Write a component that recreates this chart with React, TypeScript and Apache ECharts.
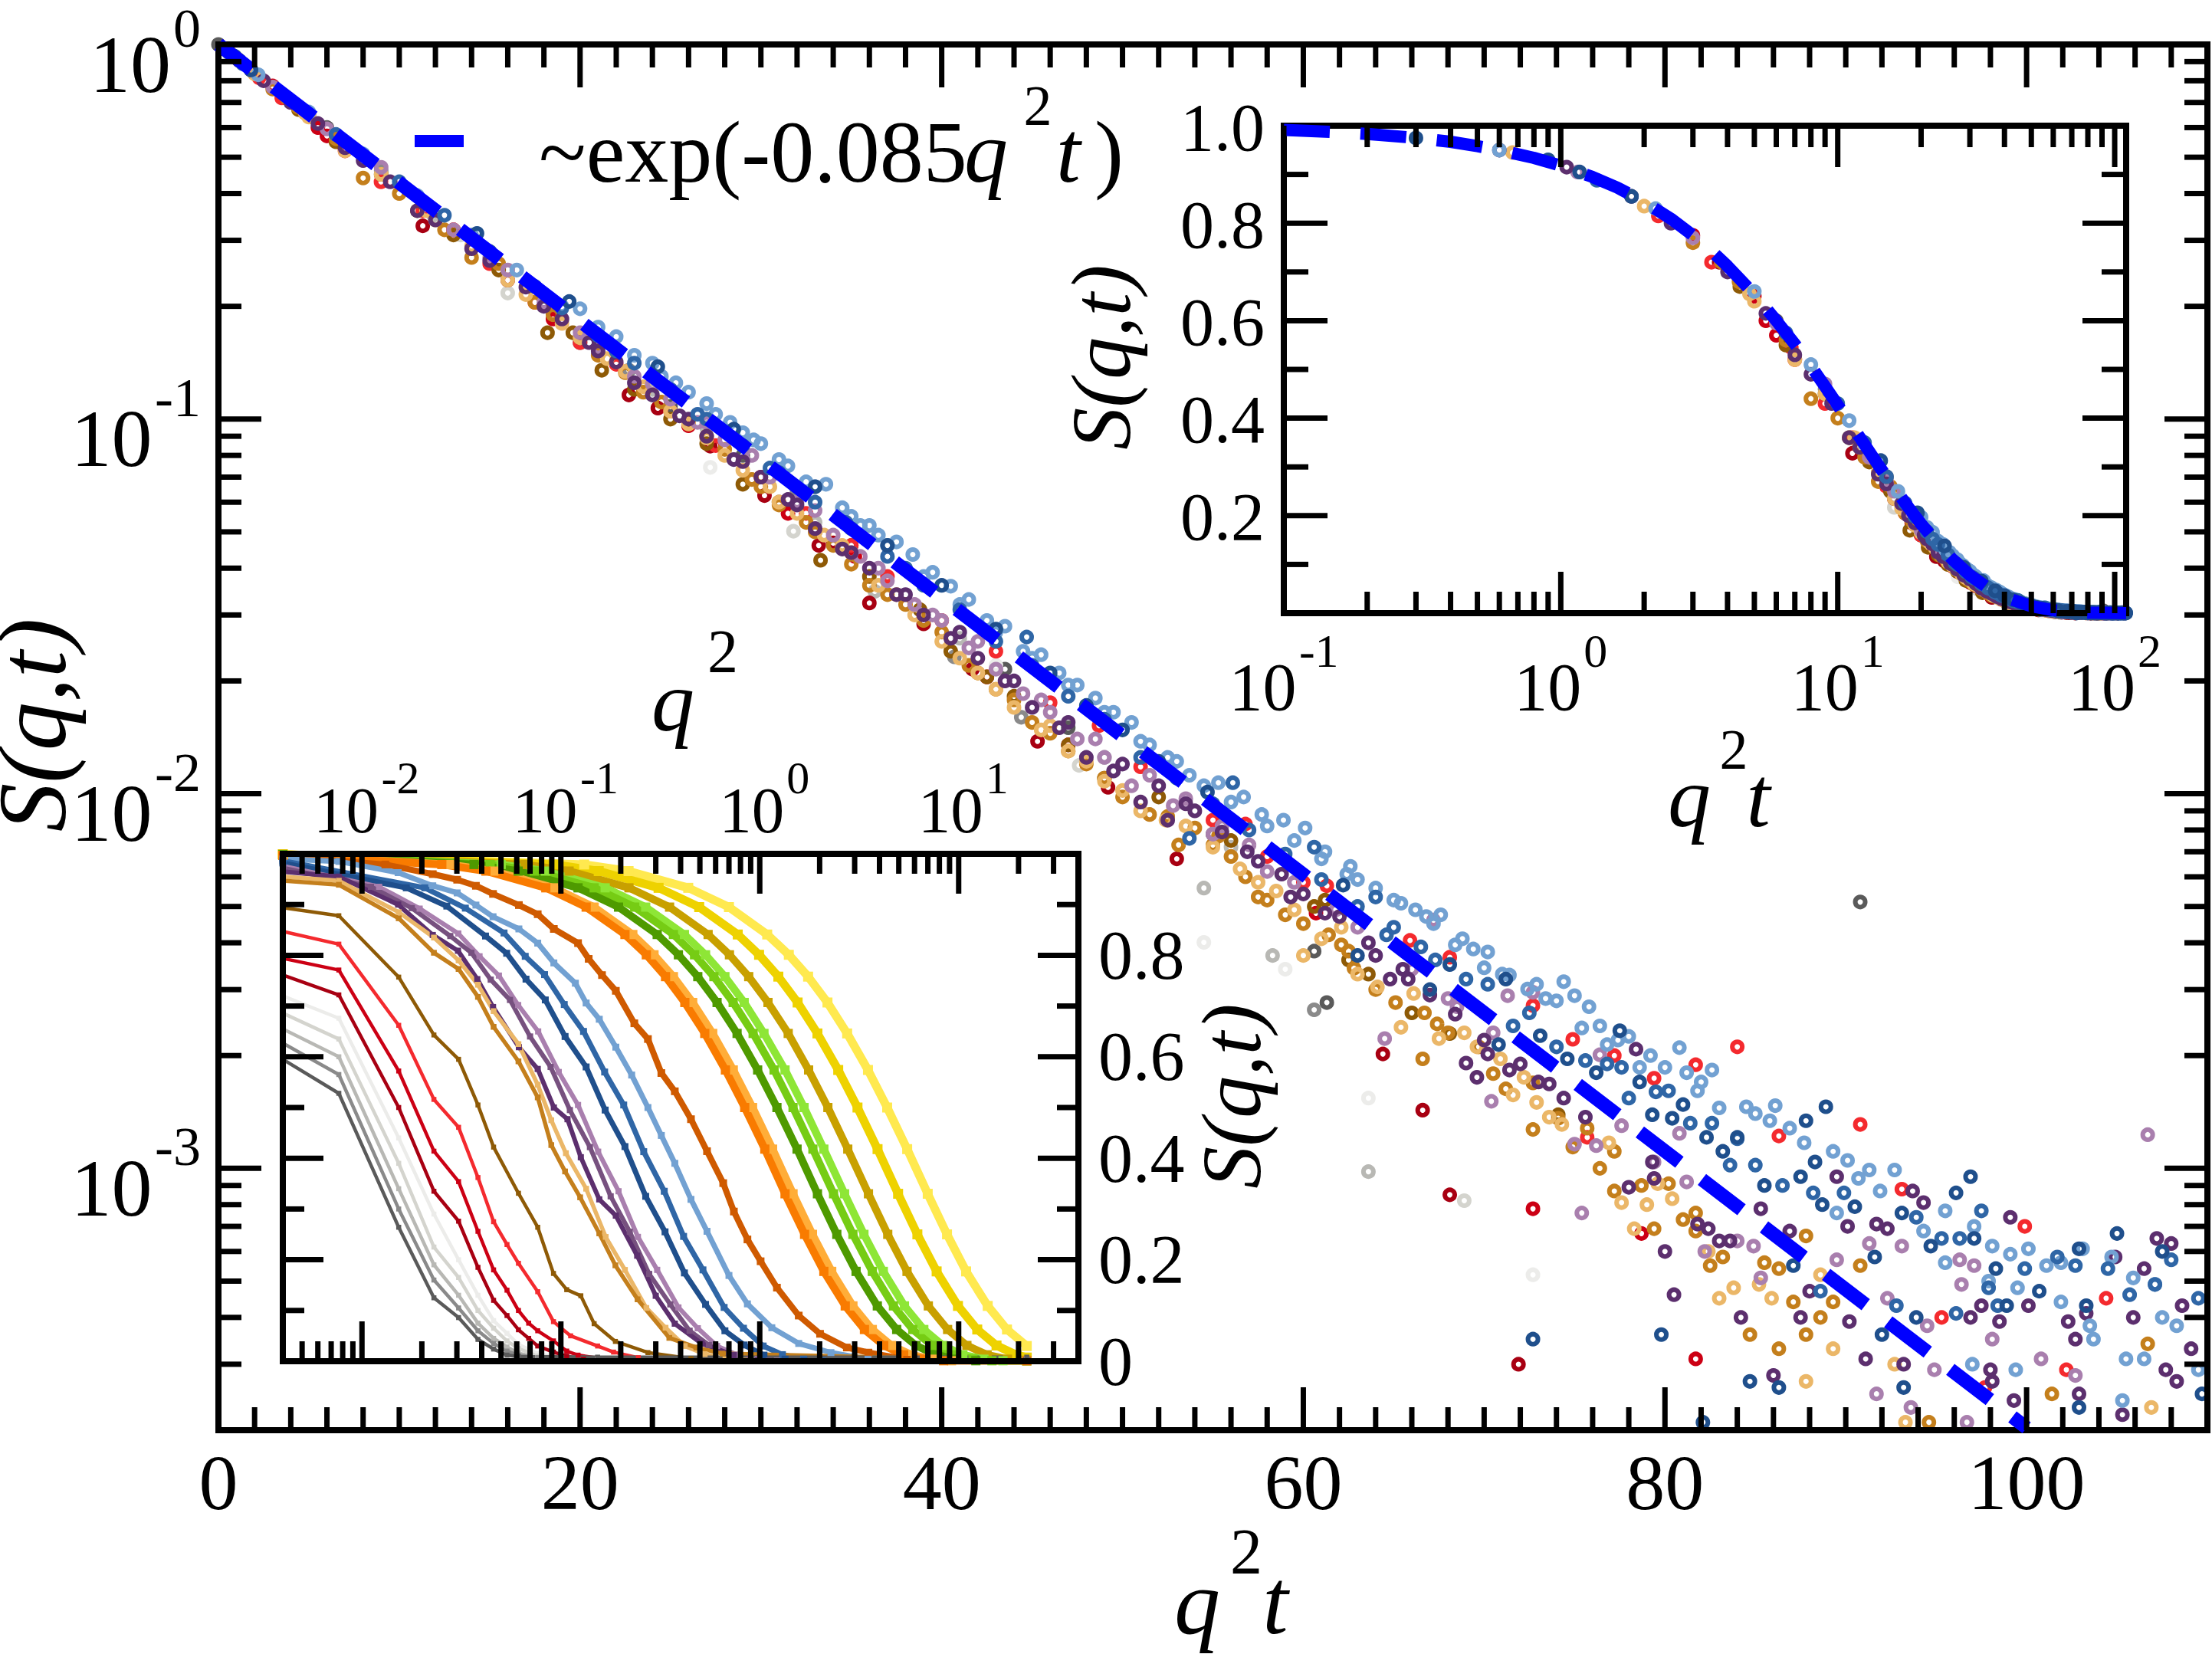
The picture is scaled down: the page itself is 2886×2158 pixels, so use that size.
import React, { useEffect, useRef } from "react";
import * as echarts from "echarts";

type P = [number, number];
const FONT = "Liberation Serif";

// ---- colours
const cGray1 = "#5a5a5a", cGray2 = "#8a8a8a", cGray3 = "#b8b8b4", cGray4 = "#d4d4ce", cGray5 = "#ececea";
const cRedD = "#a80012", cRedM = "#cc0014", cRedB = "#f42a2e";
const cBrown = "#8e5a06", cTanD = "#c47f1c", cTanL = "#ebb768";
const cPurD = "#5c2f6e", cPurM = "#77517f", cPurL = "#a97fae";
const cBluD = "#1f4f8c", cBluM = "#2f66a6", cBluL = "#72a1d2";
const cOrgD = "#cf5a00", cOrgM = "#f97b00", cOrgL = "#ffad38";
const cGrnD = "#4e9a00", cGrnM = "#76cc14", cGrnL = "#8ee636";
const cGldD = "#c8a000", cGldM = "#eed200", cGldL = "#ffe94f";

// ---- main panel scatter: q^2 t, S(q,t)
const originPoint: P[] = [[0, 1]];
const ptsBluL: P[] = [[0.6, 0.95], [2.2, 0.83], [5, 0.66], [8, 0.51], [11, 0.395], [14, 0.31], [16.5, 0.25], [19, 0.2], [21, 0.176], [23, 0.148], [24.5, 0.13], [26, 0.118], [27.5, 0.103], [29, 0.092], [30, 0.086], [31, 0.078], [32.5, 0.068], [33.6, 0.067], [34.5, 0.058], [35.5, 0.052], [36, 0.052], [36.5, 0.049], [37.5, 0.047], [38.4, 0.0435], [39.5, 0.039], [40.5, 0.0358], [41.5, 0.033], [42.5, 0.029], [43.5, 0.028], [44.5, 0.024], [45.5, 0.0235], [46.5, 0.021], [47.5, 0.0195], [48.5, 0.018], [49.5, 0.0165], [50.5, 0.0155], [51.5, 0.0135], [52.5, 0.0125],
[53.7, 0.0112], [55.3, 0.0107], [56.7, 0.0098], [57.7, 0.0088], [58.9, 0.0085], [60.1, 0.0081], [61.2, 0.007], [62.6, 0.0064], [62.4, 0.0061], [64, 0.0056], [65.4, 0.0051], [66.2, 0.0049], [67.6, 0.00475], [67.2, 0.0045], [68.4, 0.00395], [69.4, 0.00385], [70.2, 0.00378], [70, 0.00343], [71.4, 0.00328], [72.4, 0.00301], [73.4, 0.00284], [74.4, 0.00315], [75, 0.00289], [75.8, 0.0027], [76.4, 0.0024], [75.4, 0.00237], [76.8, 0.00214], [77.4, 0.0022], [79.2, 0.002], [78.6, 0.00186], [80, 0.00186], [81.2, 0.0018], [82.6, 0.00183], [81.8, 0.00161], [83, 0.00145], [84.5, 0.00146], [86.1, 0.00147], [85, 0.0014], [85.8, 0.00134], [86.9, 0.00128], [87.7, 0.00117], [89.3, 0.00111], [90.1, 0.00105], [91.3, 0.00099], [92.7, 0.00099], [90.7, 0.00094], [91.9, 0.00087], [89.5, 0.00076], [95.5, 0.00077], [97.1, 0.0007], [94.3, 0.00068], [98.1, 0.00062], [99.1, 0.00059], [95.5, 0.00056], [100.1, 0.00061], [101.1, 0.00055], [101.9, 0.00056], [99.5, 0.00048], [97.9, 0.0005], [103.1, 0.00061], [104.7, 0.00058], [105.9, 0.00051], [107.1, 0.00049], [101.9, 0.00044], [103.5, 0.00038], [103.7, 0.00035], [105.5, 0.00031], [106.5, 0.00031], [107.5, 0.0004], [108.3, 0.00038], [105.3, 0.00024], [99.4, 0.00029], [97, 0.0003], [109.5, 0.00029],
[20, 0.197], [22, 0.166], [24, 0.141], [25.3, 0.125], [27, 0.11], [28.3, 0.098], [29.6, 0.088], [31.5, 0.075], [33, 0.066], [35, 0.055], [37, 0.046], [39, 0.038], [41, 0.032], [43, 0.027], [45, 0.023], [47, 0.0195], [49, 0.0165], [51, 0.0138], [53, 0.0122], [54.5, 0.0105], [56, 0.0095], [58, 0.0082], [59.5, 0.0075], [61, 0.0067], [63, 0.0059], [65, 0.0052], [66.8, 0.0047], [68.8, 0.0041], [71, 0.0033], [72.9, 0.0031], [74, 0.0028], [78, 0.00225], [80.8, 0.0021], [82, 0.0017]];
const ptsBluM: P[] = [[1.35, 0.888], [6.5, 0.575], [12.5, 0.35], [17.5, 0.226], [22, 0.152], [26.5, 0.103], [30.5, 0.074], [34.7, 0.053], [38, 0.04], [41, 0.031], [44.7, 0.0262], [47, 0.0182], [49, 0.0158], [51, 0.0125], [53.7, 0.0076], [56.1, 0.0107], [60.6, 0.0072], [64, 0.0053], [64.6, 0.0042], [67.3, 0.0036], [70.2, 0.0031], [71.6, 0.0024], [74, 0.00211], [75.6, 0.00194], [77.6, 0.00186], [78, 0.00154], [80.2, 0.00161], [81.4, 0.00132], [82.6, 0.00132], [83.6, 0.00102], [85, 0.00102], [86.5, 0.0009], [88.2, 0.00086], [89.9, 0.00086], [88.6, 0.00047], [92.8, 0.00043], [93.9, 0.00074], [95.3, 0.00065], [96.3, 0.00065], [97.5, 0.00077], [97.9, 0.00048], [99.9, 0.00054], [101.7, 0.00058], [102.7, 0.00055], [104.5, 0.00054], [105.7, 0.00046], [107.1, 0.00049], [108, 0.00057], [109.5, 0.00045], [98.4, 0.00043], [96.1, 0.00041],
[10, 0.43], [15, 0.28], [19, 0.198], [21, 0.167], [23, 0.141], [25, 0.12], [27, 0.1], [29, 0.085], [31, 0.072], [33, 0.06], [35, 0.051], [37, 0.043], [39, 0.036], [43, 0.0255], [45, 0.022], [53, 0.011], [55, 0.0094], [57, 0.008], [59, 0.0069], [61, 0.0059], [63, 0.005], [65, 0.0044], [66.5, 0.0039], [69, 0.0032], [72.5, 0.0026], [76.8, 0.0019], [79.5, 0.0016], [84, 0.0012]];
const ptsBluD: P[] = [[0.3, 0.975], [0.9, 0.93], [1.17, 0.905], [1.8, 0.855], [14.3, 0.313], [19.4, 0.206], [24.3, 0.138], [28.5, 0.094], [33, 0.066], [37, 0.046], [40, 0.036], [43, 0.0275], [46, 0.021], [48, 0.0172], [50, 0.0148], [52, 0.0122], [54.7, 0.0101], [62.2, 0.0057], [63, 0.0037], [68.1, 0.0035], [67, 0.003], [71.2, 0.0032], [73.1, 0.00226], [70.8, 0.00214], [74.6, 0.00196], [76.2, 0.0018], [77.5, 0.00233], [78.6, 0.0017], [81, 0.00148], [79.3, 0.00139], [80.4, 0.00136], [82.3, 0.00121], [83.2, 0.00111], [84, 0.00121], [85.5, 0.0009], [87.5, 0.00095], [88.3, 0.00104], [88.7, 0.0008], [90.5, 0.00079], [91.6, 0.00058], [93.1, 0.00076], [94.7, 0.00062], [96.1, 0.00086], [97.1, 0.00065], [98.3, 0.00054], [100.7, 0.00047], [102.9, 0.00061], [103.3, 0.00043], [105, 0.00067], [107.5, 0.0006], [109.7, 0.00025], [102.9, 0.00023], [93.9, 0.0004], [98.9, 0.00043], [92, 0.00036], [93.2, 0.00026], [87.1, 0.00055], [72.7, 0.00035], [79.8, 0.00036], [82.1, 0.00021], [84.7, 0.00027], [86.3, 0.00026], [88.9, 0.00146], [96.9, 0.00095], [87.8, 0.00134]];
const ptsPurD: P[] = [[0.6, 0.95], [1.05, 0.915], [1.8, 0.855], [2.5, 0.8], [4, 0.7], [5.5, 0.615], [8, 0.49], [7, 0.53], [9.5, 0.43], [12, 0.34], [15, 0.265], [17, 0.225], [19, 0.185], [20.5, 0.16], [22, 0.142], [24, 0.116], [25.5, 0.102], [27, 0.09], [28.5, 0.078], [30, 0.07], [31.5, 0.061], [33, 0.051], [34.5, 0.045], [36, 0.04], [37.5, 0.034], [39, 0.03], [40.5, 0.026], [42, 0.023], [43.5, 0.02], [45, 0.017], [46.5, 0.015], [48, 0.0125], [49.5, 0.0115], [51, 0.0095], [52.5, 0.0085], [53.5, 0.0094], [56.9, 0.007], [59.3, 0.0053], [61.2, 0.0048], [63.6, 0.004], [64.8, 0.0032], [65.8, 0.0032], [68.4, 0.00258], [69, 0.00191], [69.6, 0.00175], [70.2, 0.00202], [71.4, 0.00183], [73.6, 0.00168], [74.4, 0.00154], [75.6, 0.00137], [78.4, 0.00208], [79.3, 0.00104], [78, 0.00089], [79.4, 0.00094], [80, 0.0006], [80.5, 0.00046], [81.8, 0.00071], [82.4, 0.00069], [83, 0.00064], [83.6, 0.00064], [85.3, 0.00078], [86.9, 0.00068], [89.5, 0.00095], [88, 0.00047], [87.5, 0.0004], [90.2, 0.00039], [90.1, 0.0007], [91.7, 0.00071], [92.3, 0.00069], [94.3, 0.00081], [93.7, 0.00087], [97.5, 0.00043], [96.9, 0.0004], [99.1, 0.00074], [100.1, 0.00043], [98.5, 0.00039], [102.3, 0.00039], [103.3, 0.00041], [102.7, 0.00035], [104.9, 0.00058], [106.5, 0.00054], [105.9, 0.0004], [84.2, 0.0004], [86, 0.00028], [91.1, 0.00031], [93.2, 0.0003], [98, 0.00029], [98.1, 0.00027], [99.3, 0.00024], [102.9, 0.00025], [105.3, 0.00022], [107.2, 0.00065], [108, 0.00063], [108.6, 0.00043], [109.1, 0.00033], [107.7, 0.00029], [108.3, 0.00027],
[11, 0.36], [14, 0.285], [18, 0.2], [21, 0.152], [23, 0.125], [26, 0.1], [29, 0.077], [32, 0.059], [35, 0.044], [38, 0.034], [41, 0.027], [44, 0.02], [47, 0.0155], [50, 0.012], [52, 0.0105], [54, 0.009], [55.5, 0.0079], [57.5, 0.0066], [58.8, 0.0061], [60, 0.0054], [62, 0.0047], [64, 0.0037], [65.5, 0.0034], [67, 0.0029], [70, 0.0022], [72, 0.0019], [73, 0.0017]];
const ptsPurL: P[] = [[1.15, 0.905], [3, 0.77], [6, 0.595], [9, 0.47], [13, 0.32], [16, 0.25], [18, 0.205], [21, 0.155], [23, 0.13], [25, 0.113], [26.5, 0.098], [28, 0.088], [30.5, 0.07], [32, 0.06], [34, 0.049], [35.5, 0.043], [37, 0.037], [38.5, 0.032], [40, 0.029], [41.5, 0.0245], [43, 0.0215], [44.5, 0.0185], [46, 0.0165], [47.5, 0.014], [49, 0.0125], [50.5, 0.0105], [52.8, 0.0093], [55, 0.0078], [58, 0.0062], [67.2, 0.0046], [68, 0.00284], [71.3, 0.00289], [64.5, 0.00222], [70.4, 0.00151], [72.7, 0.00295], [76.4, 0.00201], [77.6, 0.0013], [75, 0.00116], [76.2, 0.00115], [80.8, 0.00124], [79.4, 0.00104], [81.2, 0.00092], [82.2, 0.0006], [84.9, 0.00062], [84, 0.00064], [85.3, 0.00051], [89.5, 0.00057], [91.3, 0.00063], [93.1, 0.00062], [96.3, 0.00057], [97.1, 0.00055], [96.4, 0.00049], [92.3, 0.00045], [94.5, 0.00038], [106.7, 0.00123], [75.4, 0.00076], [91.7, 0.00025], [94.9, 0.00029], [93.6, 0.00023], [96.7, 0.00021], [100.8, 0.00031], [102.7, 0.00028], [98.1, 0.00035],
[15, 0.27], [20, 0.17], [24, 0.124], [27, 0.098], [29.5, 0.08], [33, 0.057], [36.5, 0.04], [39.5, 0.03], [42, 0.0255], [45.5, 0.0178], [48.5, 0.014], [51.5, 0.0112], [53.5, 0.0097], [55.5, 0.0082], [57, 0.0073], [59.5, 0.0058], [61.8, 0.0049], [63, 0.0044], [66, 0.0034], [68.5, 0.0027], [70.5, 0.0023]];
const ptsTanD: P[] = [[3, 0.76], [3.8, 0.72], [4.4, 0.68], [6.5, 0.56], [10, 0.4], [12.5, 0.32], [15.5, 0.26], [17.5, 0.205], [20, 0.165], [22.5, 0.133], [24.5, 0.111], [26, 0.098], [28, 0.083], [29.5, 0.069], [31, 0.059], [32.5, 0.053], [34, 0.046], [35, 0.041], [37, 0.034], [38, 0.032], [40, 0.027], [41.5, 0.022], [43, 0.019], [45, 0.0155], [46, 0.0145], [48, 0.012], [50, 0.0098], [51.5, 0.0088], [53.1, 0.0073], [55.3, 0.0077], [56, 0.0068], [56.8, 0.006], [57.5, 0.0053], [59, 0.00475], [61.4, 0.0042], [62.1, 0.00395], [62.8, 0.00342], [65.1, 0.00277], [66.6, 0.00196], [66.7, 0.0026], [67.4, 0.00243], [69.7, 0.00211], [70.5, 0.00179], [71.2, 0.00163], [72.7, 0.00169], [72.7, 0.00127], [74.1, 0.00136], [74.9, 0.00114], [75.7, 0.00128], [77.2, 0.00111], [76.4, 0.001], [77.2, 0.00087], [78.7, 0.0009], [80.2, 0.00091], [81, 0.00073], [81.7, 0.00076], [81.7, 0.00068], [79.4, 0.00069], [82.5, 0.00055], [83.2, 0.00058], [85.5, 0.00056], [86.3, 0.00054], [87.8, 0.00066], [87.1, 0.00044], [87.8, 0.00036], [88.6, 0.0004], [89.3, 0.00044], [90.8, 0.00055], [101.4, 0.00025], [94.6, 0.00021], [86.3, 0.00033], [84.7, 0.00036], [106.7, 0.00034],
[8, 0.44], [14, 0.27], [18.5, 0.19], [21, 0.148], [23.5, 0.118], [27, 0.09], [30, 0.066], [33, 0.05], [36, 0.036], [39, 0.029], [42, 0.021], [44, 0.0178], [47, 0.013], [49, 0.011], [52.5, 0.0087], [54, 0.0081], [55, 0.0073], [58, 0.0052], [60, 0.0045], [62.5, 0.0038], [64, 0.003], [68, 0.0023]];
const ptsTanL: P[] = [[0.67, 0.945], [2, 0.835], [4.8, 0.655], [5, 0.64], [9, 0.45], [11.5, 0.36], [14, 0.29], [17, 0.215], [19, 0.18], [21.5, 0.145], [23.5, 0.122], [25, 0.105], [27, 0.089], [29, 0.073], [30.5, 0.066], [32, 0.056], [33.5, 0.049], [35, 0.044], [36.5, 0.036], [38.5, 0.03], [40, 0.0255], [42, 0.021], [44, 0.017], [45.5, 0.0148], [47, 0.013], [49, 0.0108], [51, 0.009], [52.4, 0.0085], [56.5, 0.0063], [58.5, 0.0055], [60, 0.0037], [62.1, 0.0044], [64.1, 0.00305], [65.4, 0.00238], [66.1, 0.00293], [67.5, 0.00222], [68.9, 0.0023], [69.6, 0.00211], [70.9, 0.00196], [71.6, 0.00157], [72.2, 0.00175], [72.9, 0.0015], [73.6, 0.00137], [74.3, 0.00131], [76.9, 0.00117], [77.6, 0.00081], [78.3, 0.00069], [79, 0.0008], [79.6, 0.00091], [80.4, 0.00083], [82.4, 0.0006], [88.6, 0.00052], [89.3, 0.00033], [87.8, 0.00027], [92.7, 0.0003], [93.3, 0.00021], [106.9, 0.00023], [83.8, 0.00048], [83, 0.00045], [85.2, 0.00049], [85.9, 0.00045],
[7, 0.52], [12, 0.34], [16, 0.235], [20, 0.165], [22.5, 0.134], [26, 0.097], [28, 0.08], [31, 0.06], [34.5, 0.046], [37.5, 0.034], [41, 0.023], [43, 0.019], [46, 0.0152], [48, 0.0122], [50, 0.0102], [53.5, 0.0082], [55, 0.0072], [57.5, 0.0058], [59.5, 0.0049], [61, 0.0041], [63, 0.0033]];
const ptsBrown: P[] = [[4.43, 0.67], [9, 0.45], [13, 0.31], [18.2, 0.17], [19.6, 0.17], [21.2, 0.135], [25, 0.1], [29, 0.067], [33.3, 0.042], [38.8, 0.031], [44, 0.0182], [49, 0.011], [60.6, 0.005], [63.6, 0.0033], [68.1, 0.00229], [74.1, 0.00139],
[6.5, 0.55], [11, 0.36], [15.5, 0.25], [23, 0.12], [27, 0.086], [31, 0.06], [36, 0.038], [40.5, 0.024], [42.5, 0.0205], [47, 0.0135], [52, 0.0098], [56, 0.0075], [61.2, 0.0052], [62.5, 0.0036], [66, 0.0026]];
const ptsRedD: P[] = [[3.73, 0.72], [11.3, 0.328], [16, 0.235], [22.7, 0.116], [24.3, 0.107], [27.2, 0.0847], [30.2, 0.0625], [33.2, 0.046], [34, 0.0467], [36, 0.0323], [39, 0.0284], [41.7, 0.0215], [45.3, 0.0138], [49.2, 0.0104], [53, 0.0067], [64.4, 0.00202], [66.6, 0.00143], [68.1, 0.00085], [71.9, 0.0003]];
const ptsRedM: P[] = [[3, 0.775], [5, 0.65], [5.5, 0.6], [6, 0.57], [13, 0.32], [18.5, 0.185], [26, 0.096], [31.5, 0.056], [35.2, 0.043], [42.5, 0.0205], [47, 0.0135], [60.7, 0.0048], [72.7, 0.00078], [81.7, 0.00031], [78.7, 0.00067]];
const ptsRedB: P[] = [[2.25, 0.815], [6.8, 0.545], [8.99, 0.43], [11.3, 0.36], [15, 0.26], [20, 0.16], [25, 0.105], [30, 0.07], [37, 0.038], [43, 0.024], [48.7, 0.0152], [56.8, 0.0083], [61.3, 0.00568], [65.9, 0.00406], [68.1, 0.00366], [72.7, 0.00272], [74.9, 0.00221], [77.2, 0.002], [79.4, 0.00174], [81.7, 0.00189], [84, 0.00211], [86.3, 0.00122], [90.8, 0.00131], [93.1, 0.00088], [95.3, 0.0004], [99.9, 0.0007], [104.4, 0.00045], [102.2, 0.00029], [97.7, 0.00026], [75.7, 0.00121],
[3.5, 0.72], [7, 0.52], [13, 0.32], [17.5, 0.205], [22, 0.14], [27.5, 0.085], [32.5, 0.056], [35, 0.046], [40, 0.029], [46, 0.0175], [51, 0.0118], [55, 0.0085], [58, 0.0068], [60, 0.0058]];
const ptsGray1: P[] = [[6, 0.6], [20, 0.16], [29, 0.08], [43.5, 0.0215], [60.6, 0.0038], [61.3, 0.00277], [90.8, 0.00514], [15, 0.28], [25, 0.108], [35, 0.046], [47, 0.015], [55, 0.0078]];
const ptsGray2: P[] = [[9, 0.46], [22.7, 0.135], [32, 0.064], [40.7, 0.0232], [44.4, 0.016], [60.6, 0.00265]];
const ptsGray3: P[] = [[6.6, 0.56], [11.9, 0.35], [27, 0.095], [36.3, 0.0347], [54.5, 0.0056], [58.3, 0.0037], [63.6, 0.00098], [18, 0.2], [24, 0.12], [33, 0.053], [41, 0.026], [49, 0.0125], [56, 0.0072]];
const ptsGray4: P[] = [[13.4, 0.31], [16, 0.217], [31.8, 0.0502], [47.6, 0.0119], [68.9, 0.00082]];
const ptsGray5: P[] = [[8.99, 0.45], [27.2, 0.0743], [52, 0.0098], [54.5, 0.00401], [59, 0.0034], [63.6, 0.00154], [72.7, 0.00052], [20, 0.165], [30, 0.07], [43, 0.022], [56, 0.0068]];

// ---- dashed fit drawn in the log-x panel
const fitLogX: P[] = [[0.1, 0.9915], [0.15, 0.987], [0.2, 0.983], [0.3, 0.975], [0.4, 0.967], [0.5, 0.958], [0.6, 0.95], [0.8, 0.934], [1, 0.918], [1.3, 0.895], [1.6, 0.873], [2, 0.844], [2.5, 0.809], [3, 0.775], [3.5, 0.743], [4, 0.712], [5, 0.654], [6, 0.6], [7, 0.552], [8, 0.507], [9, 0.465], [10, 0.427], [12, 0.361], [14, 0.304], [16, 0.257], [18, 0.217], [20, 0.183], [23, 0.142], [26, 0.11], [30, 0.078], [35, 0.051], [40, 0.033], [50, 0.0143], [60, 0.0061], [80, 0.0011], [110, 0.0001]];
const fitMain: P[] = [[0, 1], [100, 0.000203]];

// ---- lower-left panel: S(q,t) against q^2, one curve per waiting time
const curveGray1: P[] = [[0.004, 0.595], [0.00765, 0.528], [0.0153, 0.264], [0.023, 0.125], [0.0306, 0.086], [0.0383, 0.043], [0.0459, 0.024], [0.0536, 0.012], [0.0612, 0.009], [0.153, 0.008], [22, 0.008]];
const curveGray2: P[] = [[0.004, 0.627], [0.00765, 0.565], [0.0153, 0.3], [0.023, 0.16], [0.0306, 0.105], [0.0383, 0.06], [0.0459, 0.035], [0.0536, 0.02], [0.0612, 0.012], [0.0765, 0.007], [0.153, 0.005], [22, 0.005]];
const curveGray3: P[] = [[0.004, 0.655], [0.00765, 0.6], [0.0153, 0.34], [0.023, 0.19], [0.0306, 0.13], [0.0383, 0.075], [0.0459, 0.045], [0.0536, 0.028], [0.0612, 0.016], [0.0765, 0.007], [0.153, 0.004], [22, 0.004]];
const curveGray4: P[] = [[0.004, 0.686], [0.00765, 0.635], [0.0153, 0.39], [0.023, 0.225], [0.0306, 0.165], [0.0383, 0.1], [0.0459, 0.065], [0.0536, 0.04], [0.0612, 0.025], [0.0765, 0.01], [0.153, 0.004], [22, 0.004]];
const curveGray5: P[] = [[0.004, 0.72], [0.00765, 0.676], [0.0153, 0.44], [0.023, 0.29], [0.0306, 0.2], [0.0383, 0.13], [0.0459, 0.08], [0.0536, 0.055], [0.0612, 0.033], [0.0765, 0.015], [0.1, 0.006], [0.153, 0.004], [22, 0.004]];
const curveRedD: P[] = [[0.004, 0.761], [0.00765, 0.722], [0.0153, 0.5], [0.023, 0.335], [0.0306, 0.276], [0.0383, 0.185], [0.0459, 0.12], [0.0536, 0.09], [0.0612, 0.062], [0.0689, 0.045], [0.0765, 0.03], [0.0918, 0.018], [0.107, 0.01], [0.13, 0.004], [0.2, 0.001], [22, 0.001]];
const curveRedM: P[] = [[0.004, 0.794], [0.00765, 0.771], [0.0153, 0.572], [0.023, 0.414], [0.0306, 0.354], [0.0383, 0.256], [0.0459, 0.18], [0.0536, 0.14], [0.0612, 0.1], [0.0689, 0.075], [0.0765, 0.06], [0.0918, 0.04], [0.107, 0.02], [0.122, 0.012], [0.153, 0.006], [0.25, 0.001], [22, 0.001]];
const curveRedB: P[] = [[0.004, 0.847], [0.00765, 0.822], [0.0153, 0.662], [0.023, 0.516], [0.0306, 0.461], [0.0383, 0.362], [0.0459, 0.275], [0.0536, 0.23], [0.0612, 0.193], [0.0765, 0.137], [0.0918, 0.078], [0.112, 0.05], [0.153, 0.03], [0.184, 0.018], [0.245, 0.007], [0.4, 0.001], [22, 0.001]];
const curveBrown: P[] = [[0.004, 0.894], [0.00765, 0.878], [0.0153, 0.757], [0.023, 0.643], [0.0306, 0.595], [0.0383, 0.505], [0.0459, 0.422], [0.0612, 0.331], [0.0765, 0.264], [0.0918, 0.173], [0.107, 0.141], [0.126, 0.129], [0.147, 0.074], [0.188, 0.039], [0.274, 0.017], [0.451, 0.005], [22, 0.001]];
const curveTanD: P[] = [[0.004, 0.947], [0.00765, 0.939], [0.0153, 0.873], [0.023, 0.805], [0.0306, 0.773], [0.0383, 0.718], [0.0459, 0.659], [0.0612, 0.591], [0.0765, 0.52], [0.0895, 0.426], [0.105, 0.374], [0.125, 0.323], [0.156, 0.252], [0.188, 0.189], [0.243, 0.122], [0.351, 0.046], [0.48, 0.027], [0.65, 0.015], [22, 0.001]];
const curveTanL: P[] = [[0.004, 0.955], [0.00765, 0.947], [0.0153, 0.885], [0.023, 0.835], [0.0306, 0.79], [0.0383, 0.742], [0.0459, 0.69], [0.0612, 0.625], [0.0765, 0.545], [0.0895, 0.475], [0.106, 0.41], [0.134, 0.34], [0.168, 0.245], [0.21, 0.18], [0.269, 0.105], [0.336, 0.066], [0.42, 0.03], [0.529, 0.014], [0.672, 0.004], [0.84, 0.0012], [22, 0.001]];
const curvePurD: P[] = [[0.004, 0.965], [0.00765, 0.955], [0.0152, 0.9], [0.0227, 0.84], [0.0304, 0.809], [0.038, 0.753], [0.0456, 0.698], [0.0615, 0.619], [0.0765, 0.576], [0.0922, 0.5], [0.108, 0.477], [0.126, 0.402], [0.156, 0.319], [0.189, 0.287], [0.242, 0.208], [0.3, 0.129], [0.374, 0.074], [0.51, 0.035], [0.741, 0.012], [0.98, 0.002], [22, 0.001]];
const curvePurM: P[] = [[0.004, 0.972], [0.0111, 0.935], [0.0178, 0.893], [0.0278, 0.838], [0.0355, 0.805], [0.0444, 0.752], [0.0555, 0.712], [0.07, 0.64], [0.0888, 0.58], [0.111, 0.495], [0.14, 0.422], [0.178, 0.325], [0.222, 0.255], [0.278, 0.172], [0.355, 0.112], [0.444, 0.06], [0.555, 0.032], [0.7, 0.012], [0.888, 0.004], [1.11, 0.001], [22, 0.001]];
const curvePurL: P[] = [[0.004, 0.976], [0.0122, 0.935], [0.0195, 0.892], [0.0305, 0.843], [0.039, 0.798], [0.0488, 0.76], [0.061, 0.702], [0.0769, 0.65], [0.0976, 0.57], [0.122, 0.505], [0.154, 0.413], [0.195, 0.335], [0.244, 0.245], [0.305, 0.18], [0.39, 0.106], [0.488, 0.065], [0.61, 0.03], [0.769, 0.013], [0.976, 0.004], [1.22, 0.001], [22, 0.001]];
const curveBluD: P[] = [[0.004, 0.982], [0.0167, 0.933], [0.0267, 0.897], [0.0418, 0.838], [0.0534, 0.804], [0.0668, 0.753], [0.0835, 0.712], [0.105, 0.64], [0.134, 0.58], [0.167, 0.495], [0.21, 0.423], [0.267, 0.325], [0.334, 0.255], [0.418, 0.174], [0.534, 0.112], [0.668, 0.06], [0.835, 0.032], [1.05, 0.012], [1.34, 0.004], [1.67, 0.001], [22, 0.001]];
const curveBluM: P[] = [[0.004, 0.986], [0.0207, 0.933], [0.0331, 0.893], [0.0518, 0.844], [0.0662, 0.798], [0.0828, 0.762], [0.104, 0.703], [0.13, 0.65], [0.166, 0.57], [0.207, 0.505], [0.261, 0.413], [0.331, 0.335], [0.414, 0.246], [0.518, 0.18], [0.662, 0.106], [0.828, 0.065], [1.04, 0.03], [1.3, 0.013], [1.66, 0.004], [2.07, 0.001], [22, 0.001]];
const curveBluL: P[] = [[0.004, 0.99], [0.00765, 0.985], [0.0152, 0.963], [0.0227, 0.937], [0.0301, 0.923], [0.0374, 0.899], [0.0456, 0.876], [0.0615, 0.852], [0.0765, 0.824], [0.0922, 0.785], [0.1183, 0.745], [0.134, 0.706], [0.156, 0.674], [0.189, 0.619], [0.227, 0.564], [0.274, 0.5], [0.32, 0.445], [0.374, 0.39], [0.451, 0.319], [0.543, 0.256], [0.7, 0.169], [0.867, 0.113], [1.15, 0.066], [1.57, 0.035], [2.28, 0.017], [3.5, 0.004], [22, 0.001]];
const curveOrgD: P[] = [[0.004, 0.995], [0.0131, 0.979], [0.0227, 0.96], [0.0301, 0.949], [0.0374, 0.937], [0.0456, 0.921], [0.0615, 0.899], [0.0765, 0.881], [0.0922, 0.852], [0.122, 0.824], [0.138, 0.793], [0.161, 0.761], [0.189, 0.73], [0.234, 0.666], [0.274, 0.635], [0.32, 0.568], [0.374, 0.532], [0.451, 0.477], [0.543, 0.414], [0.655, 0.351], [0.741, 0.295], [0.867, 0.24], [1.01, 0.197], [1.22, 0.145], [1.57, 0.09], [2.01, 0.054], [2.74, 0.027], [3.52, 0.017], [5.5, 0.003], [22, 0.001]];
const curveOrgM: P[] = [[0.004, 0.997], [0.0252, 0.979], [0.042, 0.966], [0.084, 0.933], [0.134, 0.895], [0.21, 0.841], [0.269, 0.801], [0.336, 0.758], [0.42, 0.707], [0.529, 0.646], [0.672, 0.574], [0.84, 0.5], [1.06, 0.418], [1.34, 0.33], [1.68, 0.25], [2.1, 0.177], [2.69, 0.109], [3.36, 0.0625], [4.2, 0.031], [5.29, 0.0126], [6.72, 0.004], [8.4, 0.001], [22, 0.001]];
const curveOrgL: P[] = [[0.004, 0.997], [0.0276, 0.979], [0.046, 0.966], [0.092, 0.933], [0.147, 0.895], [0.23, 0.841], [0.294, 0.801], [0.368, 0.758], [0.46, 0.707], [0.58, 0.646], [0.736, 0.574], [0.92, 0.5], [1.16, 0.418], [1.47, 0.33], [1.84, 0.25], [2.3, 0.177], [2.94, 0.109], [3.68, 0.0625], [4.6, 0.031], [5.8, 0.0126], [7.36, 0.004], [9.2, 0.001], [22, 0.001]];
const curveGrnD: P[] = [[0.004, 0.998], [0.0366, 0.979], [0.061, 0.966], [0.122, 0.933], [0.195, 0.895], [0.305, 0.841], [0.39, 0.801], [0.488, 0.758], [0.61, 0.707], [0.769, 0.646], [0.976, 0.574], [1.22, 0.5], [1.54, 0.418], [1.95, 0.33], [2.44, 0.25], [3.05, 0.177], [3.9, 0.109], [4.88, 0.0625], [6.1, 0.031], [7.69, 0.0126], [9.76, 0.004], [12.2, 0.001], [22, 0.001]];
const curveGrnM: P[] = [[0.004, 0.998], [0.0441, 0.979], [0.0735, 0.966], [0.147, 0.933], [0.235, 0.895], [0.368, 0.841], [0.47, 0.801], [0.588, 0.758], [0.735, 0.707], [0.926, 0.646], [1.18, 0.574], [1.47, 0.5], [1.85, 0.418], [2.35, 0.33], [2.94, 0.25], [3.68, 0.177], [4.7, 0.109], [5.88, 0.0625], [7.35, 0.031], [9.26, 0.0126], [11.8, 0.004], [14.7, 0.001], [22, 0.001]];
const curveGrnL: P[] = [[0.004, 0.998], [0.0501, 0.979], [0.0835, 0.966], [0.167, 0.933], [0.267, 0.895], [0.418, 0.841], [0.534, 0.801], [0.668, 0.758], [0.835, 0.707], [1.05, 0.646], [1.34, 0.574], [1.67, 0.5], [2.1, 0.418], [2.67, 0.33], [3.34, 0.25], [4.18, 0.177], [5.34, 0.109], [6.68, 0.0625], [8.35, 0.031], [10.5, 0.0126], [13.4, 0.004], [16.7, 0.001], [22, 0.001]];
const curveGldD: P[] = [[0.004, 0.999], [0.066, 0.979], [0.11, 0.966], [0.22, 0.933], [0.352, 0.895], [0.55, 0.841], [0.704, 0.801], [0.88, 0.758], [1.1, 0.707], [1.39, 0.646], [1.76, 0.574], [2.2, 0.5], [2.77, 0.418], [3.52, 0.33], [4.4, 0.25], [5.5, 0.177], [7.04, 0.109], [8.8, 0.0625], [11, 0.031], [13.9, 0.0126], [17.6, 0.004], [22, 0.002]];
const curveGldM: P[] = [[0.004, 0.999], [0.093, 0.979], [0.155, 0.966], [0.31, 0.933], [0.496, 0.895], [0.775, 0.841], [0.992, 0.801], [1.24, 0.758], [1.55, 0.707], [1.95, 0.646], [2.48, 0.574], [3.1, 0.5], [3.91, 0.418], [4.96, 0.33], [6.2, 0.25], [7.75, 0.177], [9.92, 0.109], [12.4, 0.0625], [15.5, 0.031], [19.5, 0.0126], [22, 0.0073]];
const curveGldL: P[] = [[0.004, 0.999], [0.131, 0.979], [0.219, 0.966], [0.437, 0.933], [0.7, 0.895], [1.09, 0.841], [1.4, 0.801], [1.75, 0.758], [2.19, 0.707], [2.75, 0.646], [3.5, 0.574], [4.37, 0.5], [5.51, 0.418], [6.99, 0.33], [8.74, 0.25], [10.9, 0.177], [14, 0.109], [17.5, 0.0625], [22, 0.03]];

// ---- tick values
const mainXMajor = [0, 20, 40, 60, 80, 100];
const mainXMinor = [2, 4, 6, 8, 10, 12, 14, 16, 18, 22, 24, 26, 28, 30, 32, 34, 36, 38, 42, 44, 46, 48, 50, 52, 54, 56, 58, 62, 64, 66, 68, 70, 72, 74, 76, 78, 82, 84, 86, 88, 90, 92, 94, 96, 98, 102, 104, 106, 108];
const mainYMajor = [1, 0.1, 0.01, 0.001];
const mainYMinor = [0.9, 0.8, 0.7, 0.6, 0.5, 0.4, 0.3, 0.2, 0.09, 0.08, 0.07, 0.06, 0.05, 0.04, 0.03, 0.02, 0.009, 0.008, 0.007, 0.006, 0.005, 0.004, 0.003, 0.002, 0.0009, 0.0008, 0.0007, 0.0006, 0.0005, 0.0004, 0.0003];
const mainYExp = ["0", "-1", "-2", "-3"];
const tlXMajor = [0.1, 1, 10, 100];
const tlXMinor = [0.2, 0.3, 0.4, 0.5, 0.6, 0.7, 0.8, 0.9, 2, 3, 4, 5, 6, 7, 8, 9, 20, 30, 40, 50, 60, 70, 80, 90];
const tlXExp = ["-1", "0", "1", "2"];
const linYMajor = [0.2, 0.4, 0.6, 0.8];
const linYMinor = [0.1, 0.3, 0.5, 0.7, 0.9];
const tlYLabels = ["1.0", "0.8", "0.6", "0.4", "0.2"];
const tlYLabelVals = [1, 0.8, 0.6, 0.4, 0.2];
const blXMajor = [0.01, 0.1, 1, 10];
const blXMinor = [0.005, 0.006, 0.007, 0.008, 0.009, 0.02, 0.03, 0.04, 0.05, 0.06, 0.07, 0.08, 0.09, 0.2, 0.3, 0.4, 0.5, 0.6, 0.7, 0.8, 0.9, 2, 3, 4, 5, 6, 7, 8, 9, 20, 30];
const blXExp = ["-2", "-1", "0", "1"];
const blYLabels = ["0.8", "0.6", "0.4", "0.2", "0"];
const blYLabelVals = [0.8, 0.6, 0.4, 0.2, 0];

const GRIDS = [
  { left: 285, top: 58, width: 2595, height: 1808 },
  { left: 1675, top: 164, width: 1099, height: 636 },
  { left: 369, top: 1114, width: 1038, height: 662 },
];

const ticks = (g: number, dim: "x" | "y", values: number[], ref: number, len: number) => ({
  type: "custom", xAxisIndex: g, yAxisIndex: g, silent: true, z: 20, clip: false,
  data: values.map((v) => (dim === "x" ? [v, ref] : [ref, v])),
  encode: { x: 0, y: 1 },
  renderItem: (p: any, api: any) => {
    const c = api.coord([api.value(0), api.value(1)]);
    const cs = p.coordSys;
    const st = { stroke: "#000", lineWidth: 7, fill: "none" };
    const seg = dim === "x"
      ? [[c[0], cs.y, c[0], cs.y + len], [c[0], cs.y + cs.height, c[0], cs.y + cs.height - len]]
      : [[cs.x, c[1], cs.x + len, c[1]], [cs.x + cs.width, c[1], cs.x + cs.width - len, c[1]]];
    return {
      type: "group",
      children: seg.map((s) => ({ type: "line", shape: { x1: s[0], y1: s[1], x2: s[2], y2: s[3] }, style: st })),
    };
  },
});

const txt = (text: string, x: number, y: number, fontSize: number, align = "center", italic = false) => ({
  type: "text",
  style: { text, x, y, fontSize, fontFamily: FONT, fontStyle: italic ? "italic" : "normal", fill: "#000", align, verticalAlign: "middle" },
});

// "10" plus raised exponent, centred as a group or right-aligned
const powerLabels = (g: number, data: number[][], exps: string[], cfg: any) => ({
  type: "custom", xAxisIndex: g, yAxisIndex: g, silent: true, z: 30, clip: false,
  data, encode: { x: 0, y: 1 },
  renderItem: (p: any, api: any) => {
    const c = api.coord([api.value(0), api.value(1)]);
    const cs = p.coordSys;
    const e = exps[p.dataIndex];
    const w = (e.length === 2 ? 0.84 : 0.5) * cfg.sup;
    if (cfg.side === "left") {
      const r = cs.x - cfg.gap;
      return {
        type: "group", children: [
          txt("10", r - w - 3, c[1] + cfg.dy10, cfg.font, "right"),
          txt(e, r, Math.max(37, c[1] + cfg.dySup), cfg.sup, "right"),
        ],
      };
    }
    const base = cfg.side === "top" ? cs.y : cs.y + cs.height;
    const cx = c[0] + cfg.shift;
    const tw = cfg.font + w + 3;
    return {
      type: "group", children: [
        txt("10", cx - tw / 2 + cfg.font / 2, base + cfg.dy10, cfg.font),
        txt(e, cx + tw / 2, base + cfg.dySup, cfg.sup, "right"),
      ],
    };
  },
});

const plainLabels = (g: number, data: number[][], labels: string[], cfg: any) => ({
  type: "custom", xAxisIndex: g, yAxisIndex: g, silent: true, z: 30, clip: false,
  data, encode: { x: 0, y: 1 },
  renderItem: (p: any, api: any) => {
    const c = api.coord([api.value(0), api.value(1)]);
    const cs = p.coordSys;
    const t = labels[p.dataIndex];
    if (cfg.pos === "bottom") return txt(t, c[0], cs.y + cs.height + cfg.gap, cfg.font);
    if (cfg.pos === "left") return txt(t, cs.x - cfg.gap, c[1] + 2, cfg.font, "right");
    return txt(t, cs.x + cs.width + cfg.gap, c[1], cfg.font, "left");
  },
});

const scatterGroups: [string, P[], string][] = [
  ["gray1", ptsGray1, cGray1], ["gray2", ptsGray2, cGray2], ["gray3", ptsGray3, cGray3], ["gray4", ptsGray4, cGray4], ["gray5", ptsGray5, cGray5],
  ["redD", ptsRedD, cRedD], ["redM", ptsRedM, cRedM], ["redB", ptsRedB, cRedB],
  ["brown", ptsBrown, cBrown], ["tanD", ptsTanD, cTanD], ["tanL", ptsTanL, cTanL],
  ["purL", ptsPurL, cPurL], ["purD", ptsPurD, cPurD],
  ["bluL", ptsBluL, cBluL], ["bluM", ptsBluM, cBluM], ["bluD", ptsBluD, cBluD],
];

const curveGroups: [P[], string, number][] = [
  [curveGldL, cGldL, 11], [curveGldM, cGldM, 11], [curveGldD, cGldD, 10],
  [curveGrnL, cGrnL, 10], [curveGrnM, cGrnM, 10], [curveGrnD, cGrnD, 10],
  [curveOrgL, cOrgL, 10], [curveOrgM, cOrgM, 10], [curveOrgD, cOrgD, 8],
  [curveBluL, cBluL, 7], [curveBluM, cBluM, 7], [curveBluD, cBluD, 7],
  [curvePurL, cPurL, 6], [curvePurM, cPurM, 6], [curvePurD, cPurD, 6],
  [curveTanL, cTanL, 5.5], [curveTanD, cTanD, 5.5],
  [curveBrown, cBrown, 4.5], [curveRedB, cRedB, 4.5], [curveRedM, cRedM, 4.5], [curveRedD, cRedD, 4.5],
  [curveGray5, cGray5, 4.5], [curveGray4, cGray4, 4.5], [curveGray3, cGray3, 4.5], [curveGray2, cGray2, 4.5], [curveGray1, cGray1, 4.5],
];

const markerStyle = (color: string) => ({ color: "rgba(255,255,255,0)", borderColor: color, borderWidth: 6, opacity: 1 });

function buildOption() {
  const axisBase = { axisLine: { show: false }, axisTick: { show: false }, axisLabel: { show: false }, splitLine: { show: false } };
  const series: any[] = [];

  for (const [name, data, color] of scatterGroups) {
    for (const g of [0, 1]) {
      series.push({
        type: "scatter", name, xAxisIndex: g, yAxisIndex: g, data, symbol: "circle", symbolSize: 13,
        itemStyle: markerStyle(color), z: 5, silent: true,
      });
    }
  }
  series.push({ type: "scatter", xAxisIndex: 0, yAxisIndex: 0, data: originPoint, symbol: "circle", symbolSize: 13, itemStyle: markerStyle(cGray1), z: 5, silent: true, clip: false });

  series.push({
    type: "line", xAxisIndex: 0, yAxisIndex: 0, data: fitMain, showSymbol: false, z: 10, silent: true,
    lineStyle: { color: "#0000ff", width: 18, type: [65, 37], dashOffset: 11, cap: "butt" },
  });
  series.push({
    type: "line", xAxisIndex: 1, yAxisIndex: 1, data: fitLogX, showSymbol: false, z: 10, silent: true,
    lineStyle: { color: "#0000ff", width: 16, type: [60, 40], cap: "butt" },
  });

  for (const [data, color, w] of curveGroups) {
    series.push({
      type: "line", xAxisIndex: 2, yAxisIndex: 2, data, symbol: "rect", symbolSize: w + 2, showSymbol: true, z: 6, silent: true,
      itemStyle: { color }, lineStyle: { color, width: w },
    });
  }

  series.push(ticks(0, "x", mainXMajor, 1, 56), ticks(0, "x", mainXMinor, 1, 30), ticks(0, "y", mainYMajor, 50, 56), ticks(0, "y", mainYMinor, 50, 30));
  series.push(ticks(1, "x", tlXMajor, 0.5, 54), ticks(1, "x", tlXMinor, 0.5, 28), ticks(1, "y", linYMajor, 1, 57), ticks(1, "y", linYMinor, 1, 32));
  series.push(ticks(2, "x", blXMajor, 0.5, 52), ticks(2, "x", blXMinor, 0.5, 26), ticks(2, "y", linYMajor, 1, 53), ticks(2, "y", linYMinor, 1, 28));

  series.push(plainLabels(0, mainXMajor.map((v) => [v, 1]), mainXMajor.map(String), { pos: "bottom", gap: 68, font: 102 }));
  series.push(powerLabels(0, mainYMajor.map((v) => [50, v]), mainYExp, { side: "left", gap: 23, font: 106, sup: 72, dy10: 26, dySup: -28 }));
  series.push(powerLabels(1, tlXMajor.map((v) => [v, 0.5]), tlXExp, { side: "bottom", shift: 0, font: 88, sup: 62, dy10: 96, dySup: 49 }));
  series.push(plainLabels(1, tlYLabelVals.map((v) => [1, v]), tlYLabels, { pos: "left", gap: 25, font: 88 }));
  series.push(powerLabels(2, blXMajor.map((v) => [v, 0.5]), blXExp, { side: "top", shift: 6, font: 85, sup: 60, dy10: -57, dySup: -99 }));
  series.push(plainLabels(2, blYLabelVals.map((v) => [1, v]), blYLabels, { pos: "right", gap: 26, font: 90 }));

  const t = (text: string, x: number, y: number, fontSize: number, italic: boolean, rotation = 0, align = "center") => ({
    type: "text", x, y, rotation, z: 40, silent: true,
    style: { text, fontSize, fontFamily: FONT, fontStyle: italic ? "italic" : "normal", fill: "#000", align, verticalAlign: "middle" },
  });

  const graphic = [
    { type: "rect", z: 40, silent: true, shape: { x: 541, y: 176, width: 64, height: 16 }, style: { fill: "#0000ff" } },
    t("~exp(-0.085", 703, 198, 114, false, 0, "left"),
    t("q", 1258, 198, 114, true, 0, "left"),
    t("2", 1354, 138, 74, false),
    t("t", 1378, 198, 114, true, 0, "left"),
    t(")", 1428, 198, 114, false, 0, "left"),
    t("q", 1562, 2090, 120, true), t("2", 1626, 2024, 84, false), t("t", 1664, 2090, 120, true),
    t("q", 2204, 1040, 112, true), t("2", 2262, 978, 74, false), t("t", 2294, 1040, 112, true),
    t("q", 878, 915, 112, true), t("2", 943, 850, 80, false),
    t("S(q,t)", 42, 946, 127, true, Math.PI / 2),
    t("S(q,t)", 1437, 466, 110, true, Math.PI / 2),
    t("S(q,t)", 1607, 1430, 110, true, Math.PI / 2),
  ];

  return {
    animation: false,
    backgroundColor: "#ffffff",
    grid: GRIDS.map((g) => ({ ...g, show: true, borderColor: "#000", borderWidth: 8, backgroundColor: "rgba(255,255,255,0)", containLabel: false, z: 8 })),
    xAxis: [
      { ...axisBase, type: "value", gridIndex: 0, min: 0, max: 110 },
      { ...axisBase, type: "log", gridIndex: 1, min: 0.1, max: 110 },
      { ...axisBase, type: "log", gridIndex: 2, min: 0.004, max: 40 },
    ],
    yAxis: [
      { ...axisBase, type: "log", gridIndex: 0, min: 0.0002, max: 1 },
      { ...axisBase, type: "value", gridIndex: 1, min: 0, max: 1 },
      { ...axisBase, type: "value", gridIndex: 2, min: 0, max: 1 },
    ],
    series,
    graphic,
  };
}

export default function App() {
  const ref = useRef<HTMLDivElement>(null);
  useEffect(() => {
    const chart = echarts.init(ref.current as HTMLDivElement, undefined, { renderer: "svg" });
    chart.setOption(buildOption() as any);
    return () => chart.dispose();
  }, []);
  return <div ref={ref} style={{ position: "absolute", left: 0, top: 0, width: 2886, height: 2158 }} />;
}
